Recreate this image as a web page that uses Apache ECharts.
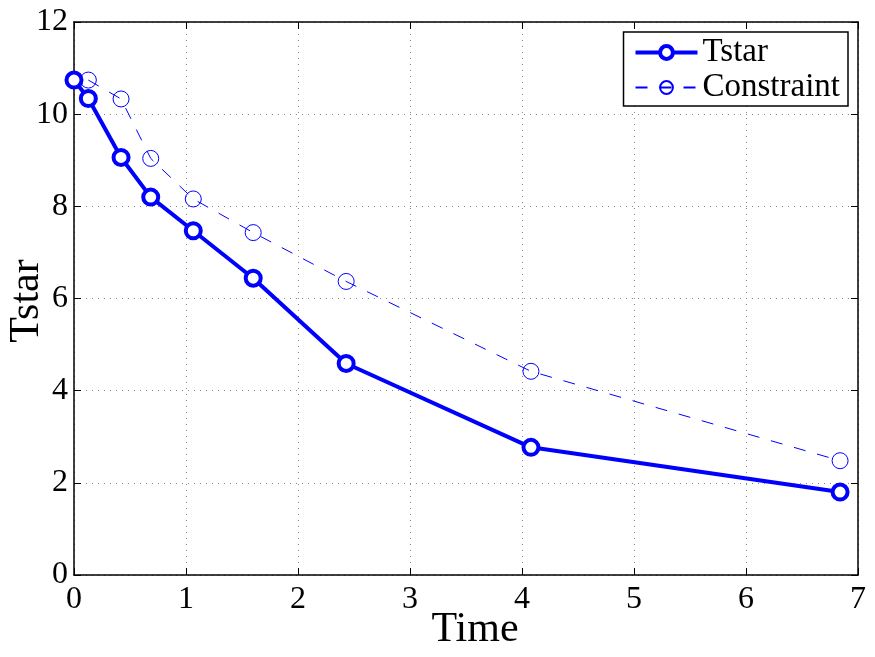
<!DOCTYPE html>
<html>
<head>
<meta charset="utf-8">
<script src="https://cdn.jsdelivr.net/npm/echarts@6/dist/echarts.min.js"></script>
<style>
html, body { margin: 0; padding: 0; background: #fff; }
#main { width: 875px; height: 657px; }
</style>
</head>
<body>
<div id="main"></div>
<script>
var chart = echarts.init(document.getElementById('main'));

// data
var tstarTime = [0, 0.128, 0.42, 0.685, 1.065, 1.60, 2.43, 4.08, 6.84];
var tstarVal = [10.74, 10.34, 9.06, 8.20, 7.47, 6.44, 4.59, 2.77, 1.80];
var consTime = [0.128, 0.42, 0.685, 1.065, 1.60, 2.43, 4.08, 6.84];
var consVal = [10.74, 10.33, 9.04, 8.16, 7.43, 6.37, 4.42, 2.48];

function pairs(xs, ys) {
    return xs.map(function (x, i) { return [x, ys[i]]; });
}

var font = '"Liberation Serif", "Times New Roman", serif';
var blue = '#0000ff';

var gridLine = {
    show: true,
    lineStyle: { color: '#888', type: [1, 5], width: 1 }
};

var option = {
    backgroundColor: '#fff',
    animation: false,
    textStyle: { fontFamily: font },
    grid: { left: 74, right: 17, top: 22, bottom: 82, outerBoundsMode: 'none', containLabel: false },
    // axis titles
    graphic: [{
        type: 'text',
        x: 27,
        y: 301,
        rotation: Math.PI / 2,
        style: {
            text: 'Tstar',
            font: '42px "Liberation Serif", serif',
            fill: '#000',
            align: 'center',
            verticalAlign: 'middle'
        }
    }, {
        type: 'text',
        x: 475,
        y: 630,
        style: {
            text: 'Time',
            font: '42px "Liberation Serif", serif',
            fill: '#000',
            align: 'center',
            verticalAlign: 'middle'
        }
    }],
    legend: {
        top: 32,
        right: 27,
        orient: 'vertical',
        backgroundColor: '#fff',
        borderColor: '#000',
        borderWidth: 1.5,
        padding: [4, 8, 2, 10],
        itemGap: 2,
        itemWidth: 62,
        itemHeight: 16,
        textStyle: { fontFamily: font, fontSize: 33, color: '#000' },
        data: [{
            name: 'Tstar',
            lineStyle: { width: 4 },
            itemStyle: { borderWidth: 4 }
        }, {
            name: 'Constraint'
        }]
    },
    xAxis: [{
        type: 'value',
        min: 0, max: 7, interval: 1,
        axisLine: { show: true, onZero: false, lineStyle: { color: '#000', width: 1.5 } },
        axisTick: { show: true, inside: true, length: 7, lineStyle: { color: '#000' } },
        axisLabel: { fontFamily: font, fontSize: 32, color: '#000', margin: 9 },
        splitLine: gridLine
    }, {
        type: 'value',
        position: 'top',
        min: 0, max: 7, interval: 1,
        axisLine: { show: true, onZero: false, lineStyle: { color: '#000', width: 1.5 } },
        axisTick: { show: true, inside: true, length: 7, lineStyle: { color: '#000' } },
        axisLabel: { show: false },
        splitLine: { show: false }
    }],
    yAxis: [{
        type: 'value',
        min: 0, max: 12, interval: 2,
        axisLine: { show: true, onZero: false, lineStyle: { color: '#000', width: 1.5 } },
        axisTick: { show: true, inside: true, length: 7, lineStyle: { color: '#000' } },
        axisLabel: { fontFamily: font, fontSize: 32, color: '#000', margin: 6 },
        splitLine: gridLine
    }, {
        type: 'value',
        position: 'right',
        min: 0, max: 12, interval: 2,
        axisLine: { show: true, onZero: false, lineStyle: { color: '#000', width: 1.5 } },
        axisTick: { show: true, inside: true, length: 7, lineStyle: { color: '#000' } },
        axisLabel: { show: false },
        splitLine: { show: false }
    }],
    series: [{
        name: 'Tstar',
        type: 'line',
        data: pairs(tstarTime, tstarVal),
        symbol: 'circle',
        symbolSize: 15,
        lineStyle: { color: blue, width: 4 },
        itemStyle: { color: '#fff', borderColor: blue, borderWidth: 4 },
        z: 3
    }, {
        name: 'Constraint',
        type: 'line',
        data: pairs(consTime, consVal),
        symbol: 'circle',
        symbolSize: 16,
        lineStyle: { color: blue, width: 1, type: [12, 12] },
        itemStyle: { color: 'rgba(255,255,255,0)', borderColor: blue, borderWidth: 1 },
        z: 2
    }]
};

chart.setOption(option);
</script>
</body>
</html>
